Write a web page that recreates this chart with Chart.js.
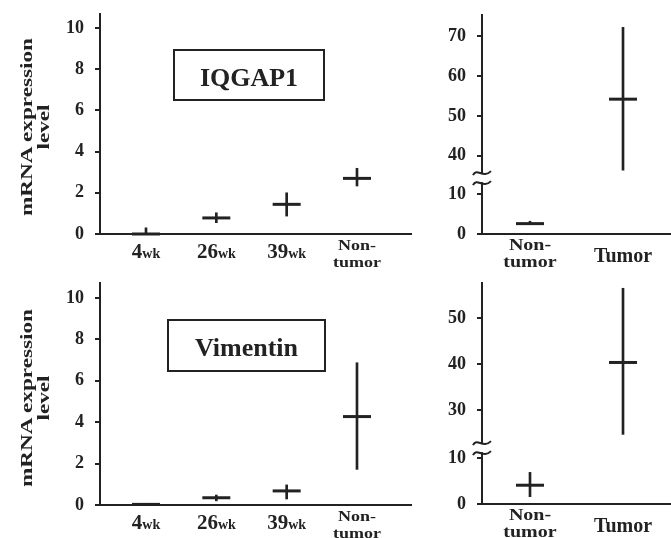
<!DOCTYPE html>
<html lang="en">
<head>
<meta charset="UTF-8" />
<title>IQGAP1 / Vimentin mRNA expression</title>
<script src="https://cdn.jsdelivr.net/npm/chart.js"></script>
<style>
  body { margin: 0; background: #fff; }
  #fig { position: relative; width: 671px; height: 538px; overflow: hidden;
         font-family: "Liberation Serif", "Times New Roman", serif; color: #222; }
  canvas { position: absolute; }
  .ytitle { position: absolute; width: 200px; height: 34px; line-height: 17px;
            font-size: 16px; font-weight: bold; text-align: center;
            transform: rotate(-90deg) scaleX(1.45); }
  .gene { position: absolute; border: 2px solid #222; box-sizing: border-box;
          font-size: 26px; font-weight: bold; text-align: center; }
</style>
</head>
<body>
<div id="fig">
  <canvas id="c1" width="415" height="270" style="left:0;top:0;width:415px;height:270px"></canvas>
  <canvas id="c2" width="256" height="270" style="left:415px;top:0;width:256px;height:270px"></canvas>
  <canvas id="c3" width="415" height="268" style="left:0;top:270px;width:415px;height:268px"></canvas>
  <canvas id="c4" width="256" height="268" style="left:415px;top:270px;width:256px;height:268px"></canvas>
  <div class="ytitle" style="left:-65px;top:110px">mRNA expression<br>level</div>
  <div class="ytitle" style="left:-65px;top:381px">mRNA expression<br>level</div>
  <div class="gene" style="left:173px;top:49px;width:152px;height:52px;line-height:54px">IQGAP1</div>
  <div class="gene" style="left:167px;top:319px;width:159px;height:53px;line-height:54px">Vimentin</div>
</div>

<script>
  // categories
  const earlyLabels = ["4wk", "26wk", "39wk", "Non-tumor"];
  const pairLabels = ["Non-tumor", "Tumor"];

  // IQGAP1
  const iqgapEarlyMean = [0.0, 0.78, 1.44, 2.7];
  const iqgapEarlyLow = [0.0, 0.55, 0.87, 2.33];
  const iqgapEarlyHigh = [0.3, 1.03, 2.0, 3.19];
  const iqgapPairMean = [2.6, 54.2];
  const iqgapPairLow = [2.6, 36.4];
  const iqgapPairHigh = [3.2, 72.2];

  // Vimentin
  const vimEarlyMean = [0.03, 0.35, 0.68, 4.27];
  const vimEarlyLow = [0.0, 0.2, 0.29, 1.72];
  const vimEarlyHigh = [0.05, 0.48, 0.97, 6.87];
  const vimPairMean = [4.1, 40.4];
  const vimPairLow = [1.6, 24.7];
  const vimPairHigh = [6.9, 56.6];

  // tick labels
  const earlyTicks = [0, 2, 4, 6, 8, 10];
  const iqgapPairTicks = [0, 10, 40, 50, 60, 70];
  const vimPairTicks = [0, 10, 30, 40, 50];

  const INK = "#222";
  const SERIF = "'Liberation Serif', 'Times New Roman', serif";

  // x labels drawn under the axis ("4wk" with small "wk", two-line "Non-tumor")
  const xLabelPlugin = {
    id: "xLabels",
    afterDraw(chart, args, opts) {
      const ctx = chart.ctx;
      const xs = chart.scales.x;
      const base = chart.chartArea.bottom;
      ctx.save();
      ctx.fillStyle = INK;
      ctx.textBaseline = "alphabetic";
      opts.labels.forEach((lab, i) => {
        const x = xs.getPixelForValue(i);
        const m = lab.match(/^(\d+)(wk)$/);
        if (m) {
          ctx.font = "bold 21px " + SERIF;
          const w1 = ctx.measureText(m[1]).width;
          ctx.font = "bold 14px " + SERIF;
          const w2 = ctx.measureText(m[2]).width;
          const x0 = x - (w1 + w2) / 2;
          ctx.textAlign = "left";
          ctx.font = "bold 21px " + SERIF;
          ctx.fillText(m[1], x0, base + 24);
          ctx.font = "bold 14px " + SERIF;
          ctx.fillText(m[2], x0 + w1, base + 24);
        } else if (lab.indexOf("-") > 0) {
          const parts = [lab.slice(0, lab.indexOf("-") + 1), lab.slice(lab.indexOf("-") + 1)];
          ctx.textAlign = "center";
          ctx.font = "bold " + opts.splitSize + "px " + SERIF;
          parts.forEach((p, k) => {
            ctx.save();
            ctx.translate(x, base + 16 + k * 17);
            ctx.scale(1, 0.82);
            ctx.fillText(p, 0, 0);
            ctx.restore();
          });
        } else {
          ctx.textAlign = "center";
          ctx.font = "bold 20px " + SERIF;
          ctx.fillText(lab, x, base + 28);
        }
      });
      ctx.restore();
    }
  };

  // wavy break marks on the y axis
  const breakPlugin = {
    id: "axisBreak",
    afterDraw(chart, args, opts) {
      if (!opts.at) return;
      const ctx = chart.ctx;
      const x = chart.chartArea.left;
      const y = chart.scales.y.getPixelForValue(opts.at);
      ctx.save();
      ctx.fillStyle = "#fff";
      ctx.fillRect(x - 3, y - 4, 6, 8);
      ctx.strokeStyle = INK;
      ctx.lineWidth = 2;
      [-5, 5].forEach((dy) => {
        ctx.beginPath();
        ctx.moveTo(x - 9, y + dy + 2);
        ctx.bezierCurveTo(x - 5, y + dy - 6, x + 1, y + dy + 6, x + 9, y + dy - 2);
        ctx.stroke();
      });
      ctx.restore();
    }
  };

  function makePanel(id, cfg) {
    const toD = (v) => (cfg.brk && v > cfg.brk.low ? v - cfg.brk.offset : v);
    const idx = cfg.labels.map((_, i) => i);

    new Chart(document.getElementById(id), {
      type: "bar",
      data: {
        datasets: [
          {
            type: "bar",
            data: idx.map((i) => ({ x: i, y: [toD(cfg.low[i]), toD(cfg.high[i])] })),
            backgroundColor: INK,
            barThickness: 2,
            borderWidth: 0
          },
          {
            type: "scatter",
            data: idx.map((i) => ({ x: i, y: toD(cfg.mean[i]) })),
            pointStyle: "line",
            pointRadius: 14,
            borderWidth: 3,
            borderColor: INK,
            clip: false
          }
        ]
      },
      options: {
        responsive: false,
        animation: false,
        devicePixelRatio: 1,
        layout: { autoPadding: false, padding: { top: cfg.top, right: cfg.right, left: 0, bottom: 0 } },
        plugins: {
          legend: { display: false },
          tooltip: { enabled: false },
          xLabels: { labels: cfg.labels, splitSize: cfg.splitSize },
          axisBreak: { at: cfg.brk ? cfg.brk.at : null }
        },
        scales: {
          x: {
            type: "linear",
            offset: false,
            min: cfg.xMin,
            max: cfg.xMax,
            ticks: { display: false },
            grid: { display: false, offset: false },
            border: { display: true, color: INK, width: 2 },
            afterFit: (s) => { s.height = cfg.xHeight; s.paddingLeft = 0; s.paddingRight = 0; }
          },
          y: {
            type: "linear",
            min: 0,
            max: cfg.yMax,
            afterBuildTicks: (s) => { s.ticks = cfg.ticks.map((v) => ({ value: toD(v) })); },
            ticks: {
              autoSkip: false,
              padding: 11,
              color: INK,
              font: { family: SERIF, size: 18, weight: "bold" },
              callback: (v, i) => String(cfg.ticks[i])
            },
            grid: { display: true, drawOnChartArea: false, drawTicks: true, tickLength: 5, color: INK, lineWidth: 2 },
            border: { display: true, color: INK, width: 2 },
            afterFit: (s) => { s.width = cfg.yWidth; s.paddingTop = 0; s.paddingBottom = 0; }
          }
        }
      },
      plugins: [xLabelPlugin, breakPlugin]
    });
  }

  makePanel("c1", {
    labels: earlyLabels, mean: iqgapEarlyMean, low: iqgapEarlyLow, high: iqgapEarlyHigh,
    ticks: earlyTicks, yMax: 10.68, xMin: -0.654, xMax: 3.768,
    top: 14, right: 4, yWidth: 100, xHeight: 36, splitSize: 18
  });
  makePanel("c2", {
    labels: pairLabels, mean: iqgapPairMean, low: iqgapPairLow, high: iqgapPairHigh,
    ticks: iqgapPairTicks, yMax: 54.9, xMin: -0.516, xMax: 1.516,
    top: 15, right: 0, yWidth: 67, xHeight: 36, splitSize: 20,
    brk: { low: 10, offset: 20.4, at: 14 }
  });
  makePanel("c3", {
    labels: earlyLabels, mean: vimEarlyMean, low: vimEarlyLow, high: vimEarlyHigh,
    ticks: earlyTicks, yMax: 10.72, xMin: -0.654, xMax: 3.768,
    top: 13, right: 4, yWidth: 100, xHeight: 33, splitSize: 18
  });
  makePanel("c4", {
    labels: pairLabels, mean: vimPairMean, low: vimPairLow, high: vimPairHigh,
    ticks: vimPairTicks, yMax: 48.25, xMin: -0.516, xMax: 1.516,
    top: 13, right: 0, yWidth: 67, xHeight: 34, splitSize: 20,
    brk: { low: 10, offset: 9.5, at: 12.2 }
  });
</script>
</body>
</html>
